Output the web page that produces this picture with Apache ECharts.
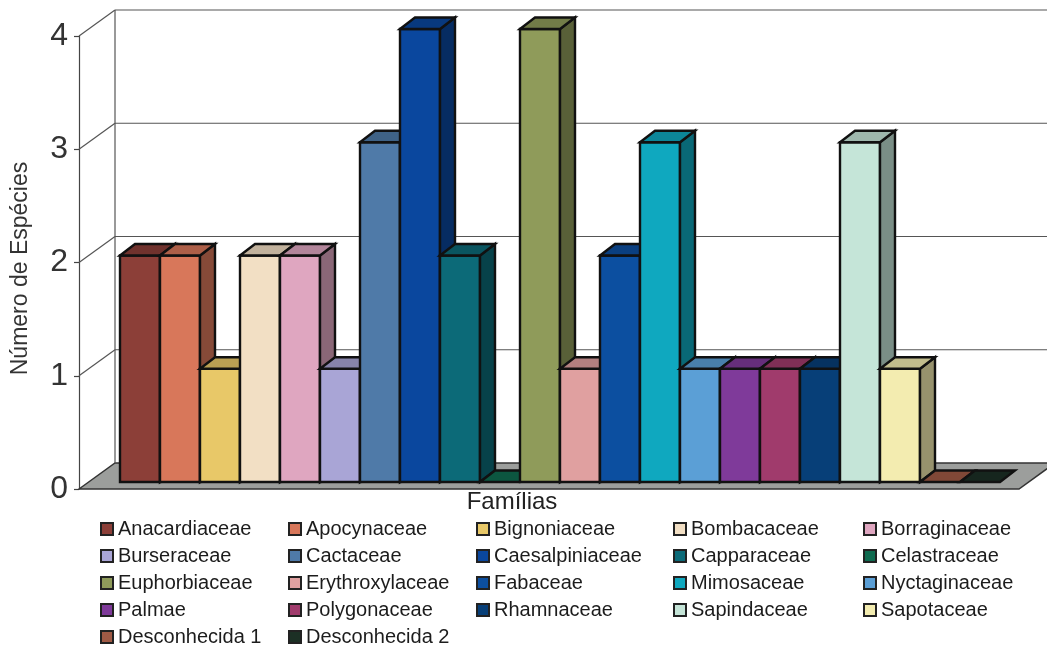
<!DOCTYPE html>
<html><head><meta charset="utf-8">
<style>html,body{margin:0;padding:0;background:#fff}#c{width:1047px;height:648px}</style>
<script src="https://cdn.jsdelivr.net/npm/echarts@6/dist/echarts.min.js"></script>
</head><body><div id="c"></div>
<script>
const families = ["Anacardiaceae","Apocynaceae","Bignoniaceae","Bombacaceae","Borraginaceae","Burseraceae","Cactaceae","Caesalpiniaceae","Capparaceae","Celastraceae","Euphorbiaceae","Erythroxylaceae","Fabaceae","Mimosaceae","Nyctaginaceae","Palmae","Polygonaceae","Rhamnaceae","Sapindaceae","Sapotaceae","Desconhecida 1","Desconhecida 2"];
const species = [2,2,1,2,2,1,3,4,2,0,4,1,2,3,1,1,1,1,3,1,0,0];
const colors = ["#8c3f38","#d8775a","#e8c868","#f2dfc4","#dfa6c0","#a9a5d6","#4f7aa8","#0a479e","#0c6a78","#0f6b50","#8f9b5a","#e0a0a0","#0c4fa0","#0fa8bf","#5b9fd6","#7f3a9a","#a03b6c","#073f78","#c5e5d8","#f3ecb0","#a05a45","#1c3025"];
const yTicks = [0,1,2,3,4];
const chartFont = "Liberation Sans";

// 3D projection of the depth axis, in screen pixels
const wallDX = 36, wallDY = -26;      // front plane -> back wall
const barDX = 11, barDY = -7;         // front plane -> bar front face
const sideDX = 15, sideDY = -11.5;    // bar front face -> bar back face
const axisOffset = 30;

function shade(hex, f){
  const n = parseInt(hex.slice(1),16);
  const c = [n>>16&255,n>>8&255,n&255].map(v=>Math.round(v*f));
  return `rgb(${c[0]},${c[1]},${c[2]})`;
}
function poly(points, fill){
  return {type:'polygon',shape:{points},style:{fill,stroke:'#111',lineWidth:2.4,lineJoin:'miter'}};
}
function renderBar(color){
  return function(params, api){
    const i = api.value(0), v = api.value(1);
    const band = api.size([1,0])[0];
    const top = api.coord([i,v]), base = api.coord([i,0]);
    const l = top[0]-band/2+barDX, r = l+band;
    const t = top[1]+barDY, b = base[1]+barDY;
    const kids = [];
    if (v>0){
      kids.push(poly([[l,t],[r,t],[r,b],[l,b]],color));
      kids.push(poly([[r,t],[r+sideDX,t+sideDY],[r+sideDX,b+sideDY],[r,b]],shade(color,.62)));
    }
    kids.push(poly([[l,t],[l+sideDX,t+sideDY],[r+sideDX,t+sideDY],[r,t]],shade(color,.8)));
    return {type:'group',children:kids};
  };
}
function renderFrame(params, api){
  const v = api.value(0);
  const p = api.coord([0,v]);
  const cs = params.coordSys;
  const x0 = cs.x-axisOffset, x1 = cs.x+cs.width+axisOffset, y = p[1];
  const line = (a,b,c,d)=>({type:'line',shape:{x1:a,y1:b,x2:c,y2:d},style:{stroke:'#555',lineWidth:1.2}});
  const kids = [];
  if (v===0){
    kids.push({type:'polygon',shape:{points:[[x0,y],[x0+wallDX,y+wallDY],[x1+wallDX,y+wallDY],[x1,y]]},
      style:{fill:'#9c9e9c',stroke:'#333',lineWidth:1.5}});
  } else {
    kids.push(line(x0,y,x0+wallDX,y+wallDY));
    kids.push(line(x0+wallDX,y+wallDY,x1+wallDX,y+wallDY));
  }
  if (v===yTicks[yTicks.length-1]){
    kids.push(line(x0+wallDX,y+wallDY,x0+wallDX,api.coord([0,0])[1]+wallDY));
  }
  return {type:'group',children:kids};
}

const legendLeft = [100,288,476,673,863];
const legends = legendLeft.map((left,c)=>({
  orient:'vertical', left, top:519, itemWidth:12, itemHeight:12, itemGap:7, padding:0,
  icon:'rect', selectedMode:false,
  data:families.filter((_,k)=>k%5===c),
  itemStyle:{borderColor:'#222',borderWidth:2},
  textStyle:{fontFamily:chartFont,fontSize:20,lineHeight:20,color:'#1c1c1c',padding:[0,0,0,0]}
}));

const chart = echarts.init(document.getElementById('c'));
chart.setOption({
  animation:false,
  backgroundColor:'#fff',
  textStyle:{fontFamily:chartFont},
  title:{text:'Famílias',left:512,textAlign:'center',top:490,padding:0,
    textStyle:{fontFamily:chartFont,fontSize:24,fontWeight:'normal',color:'#222'}},
  grid:{left:109,width:880,top:36,bottom:159,containLabel:false,outerBoundsMode:'none'},
  legend:legends,
  xAxis:{type:'category',data:families,
    axisLine:{show:false},axisTick:{show:false},axisLabel:{show:false},splitLine:{show:false}},
  yAxis:{type:'value',min:0,max:4,interval:1,offset:axisOffset,
    name:'Número de Espécies',nameLocation:'middle',nameGap:47,
    nameTextStyle:{fontFamily:chartFont,fontSize:23,color:'#333',padding:[0,0,0,-12]},
    axisLine:{show:true,lineStyle:{color:'#444',width:1.2}},
    axisTick:{show:true,length:5,lineStyle:{color:'#444',width:1.2}},
    axisLabel:{fontFamily:chartFont,fontSize:32,color:'#333',margin:11},
    splitLine:{show:false}},
  series:[
    {type:'custom',name:'frame',silent:true,clip:false,renderItem:renderFrame,
     data:yTicks.map(v=>[v]),encode:{y:0}},
    ...families.map((name,i)=>({
      type:'custom',name,silent:true,clip:false,
      itemStyle:{color:colors[i]},
      renderItem:renderBar(colors[i]),
      data:[[i,species[i]]],encode:{x:0,y:1}
    }))
  ]
});
</script></body></html>
